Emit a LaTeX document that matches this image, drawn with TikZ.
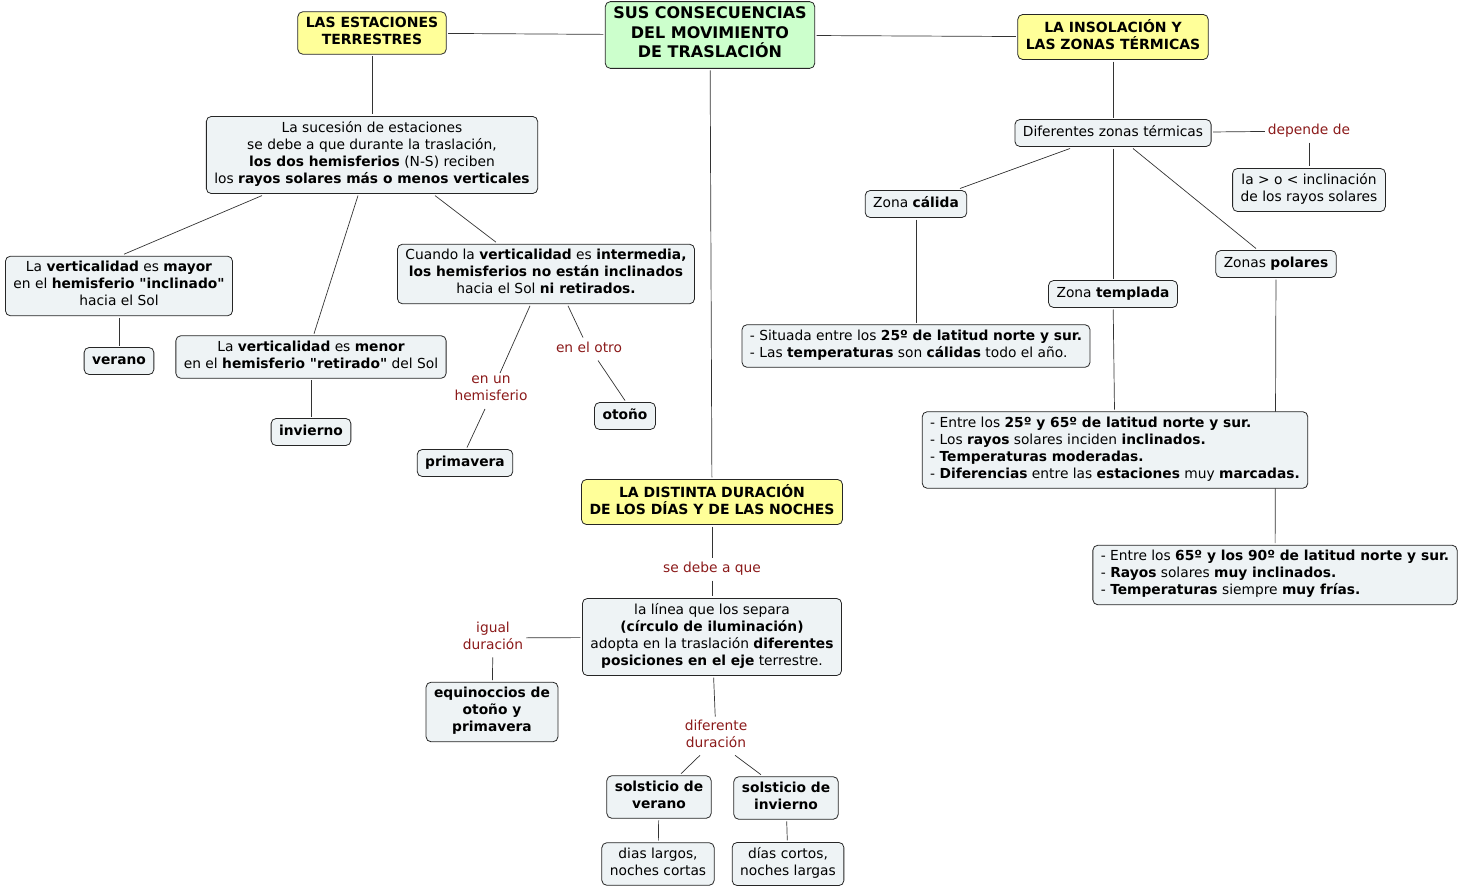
\documentclass[tikz,border=0pt]{standalone}
\usepackage{fontspec}
\setmainfont{DejaVu Sans}[Ligatures=TeXOff]
\usetikzlibrary{backgrounds}
\definecolor{conceptFill}{HTML}{EEF3F5}
\definecolor{topicFill}{HTML}{FFFF99}
\definecolor{mainFill}{HTML}{CCFFCC}
\definecolor{linkText}{HTML}{8B1A1A}
\definecolor{lineGray}{HTML}{333333}
\newcommand\bodyFont{\fontsize{13.8}{17}\selectfont}
\tikzset{
  concept/.style={draw=black!85, fill=conceptFill, rounded corners=5pt,
    line width=0.8pt, align=center, inner xsep=8pt, inner ysep=5pt,
    outer sep=2pt, font=\bodyFont,
    execute at begin node=\strut, execute at end node=\strut},
  boldConcept/.style={concept, font=\bodyFont\bfseries},
  topic/.style={concept, fill=topicFill, font=\fontsize{14}{17}\selectfont\bfseries},
  mainTopic/.style={concept, fill=mainFill, font=\fontsize{16}{19.5}\selectfont\bfseries},
  linkWord/.style={text=linkText, align=center, inner sep=1pt, outer sep=2pt,
    font=\bodyFont, execute at begin node=\strut, execute at end node=\strut},
  connector/.style={draw=lineGray, line width=0.7pt}
}
\begin{document}
\begin{tikzpicture}[x=1pt,y=-1pt] % pixel grid, y downwards
\useasboundingbox (0,0) rectangle (1464,891);
% main topics
\node[mainTopic] (main) at (710,35) {SUS CONSECUENCIAS\\DEL MOVIMIENTO\\DE TRASLACIÓN};
\node[topic] (estaciones) at (372,33) {LAS ESTACIONES\\TERRESTRES};
\node[topic] (insolacion) at (1113,37) {LA INSOLACIÓN Y\\LAS ZONAS TÉRMICAS};
\node[topic] (duracion) at (712,502) {LA DISTINTA DURACIÓN\\DE LOS DÍAS Y DE LAS NOCHES};
% the seasons
\node[concept] (sucesion) at (372,155) {La sucesión de estaciones\\se debe a que durante la traslación,\\\textbf{los dos hemisferios} (N-S) reciben\\los \textbf{rayos solares más o menos verticales}};
\node[concept] (mayor) at (119,286) {La \textbf{verticalidad} es \textbf{mayor}\\en el \textbf{hemisferio "inclinado"}\\hacia el Sol};
\node[boldConcept] (verano) at (119,361) {verano};
\node[concept] (menor) at (311,357) {La \textbf{verticalidad} es \textbf{menor}\\en el \textbf{hemisferio "retirado"} del Sol};
\node[boldConcept] (invierno) at (311,432) {invierno};
\node[concept] (intermedia) at (546,274) {Cuando la \textbf{verticalidad} es \textbf{intermedia,}\\\textbf{los hemisferios no están inclinados}\\hacia el Sol \textbf{ni retirados.}};
\node[linkWord] (enUn) at (491,391) {en un\\hemisferio};
\node[linkWord] (enOtro) at (589,349) {en el otro};
\node[boldConcept] (primavera) at (465,463) {primavera};
\node[boldConcept] (otono) at (625,416) {otoño};
% the thermal zones
\node[concept] (zonas) at (1113,133) {Diferentes zonas térmicas};
\node[linkWord] (depende) at (1309,131) {depende de};
\node[concept] (inclinacion) at (1309,190) {la > o < inclinación\\de los rayos solares};
\node[concept] (calida) at (916,204) {Zona \textbf{cálida}};
\node[concept] (templada) at (1113,294) {Zona \textbf{templada}};
\node[concept] (polares) at (1276,264) {Zonas \textbf{polares}};
\node[concept, align=left] (calidaTxt) at (916,346) {- Situada entre los \textbf{25º de latitud norte y sur.}\\- Las \textbf{temperaturas} son \textbf{cálidas} todo el año.};
\node[concept, align=left] (templadaTxt) at (1115,450) {- Entre los \textbf{25º y 65º de latitud norte y sur.}\\- Los \textbf{rayos} solares inciden \textbf{inclinados.}\\- \textbf{Temperaturas moderadas.}\\- \textbf{Diferencias} entre las \textbf{estaciones} muy \textbf{marcadas.}};
\node[concept, align=left] (polaresTxt) at (1275,575) {- Entre los \textbf{65º y los 90º de latitud norte y sur.}\\- \textbf{Rayos} solares \textbf{muy inclinados.}\\- \textbf{Temperaturas} siempre \textbf{muy frías.}};
% days and nights
\node[linkWord] (seDebe) at (712,569) {se debe a que};
\node[concept] (separa) at (712,637) {la línea que los separa\\\textbf{(círculo de iluminación)}\\adopta en la traslación \textbf{diferentes}\\\textbf{posiciones en el eje} terrestre.};
\node[linkWord] (igual) at (493,638) {igual\\duración};
\node[boldConcept] (equinoccios) at (492,712) {equinoccios de\\otoño y\\primavera};
\node[linkWord] (diferente) at (716,736) {diferente\\duración};
\node[boldConcept] (solsVerano) at (659,797) {solsticio de\\verano};
\node[boldConcept] (solsInvierno) at (786,798) {solsticio de\\invierno};
\node[concept] (largos) at (658,864) {dias largos,\\noches cortas};
\node[concept] (cortos) at (788,864) {días cortos,\\noches largas};
% connectors, behind the boxes
\begin{pgfonlayer}{background}
\foreach \a/\b in {main/estaciones, main/insolacion, main/duracion,
  estaciones/sucesion, mayor/verano, menor/invierno,
  insolacion/zonas, zonas/depende, depende/inclinacion, zonas/templada,
  calida/calidaTxt, templada/templadaTxt, polares/polaresTxt,
  duracion/seDebe, seDebe/separa, separa/igual, igual/equinoccios,
  separa/diferente, solsVerano/largos, solsInvierno/cortos}
  \draw[connector] (\a) -- (\b);
\draw[connector] ([xshift=-110pt]sucesion.south) -- ([xshift=5pt]mayor.north);
\draw[connector] ([xshift=-14pt]sucesion.south) -- ([xshift=3pt]menor.north);
\draw[connector] ([xshift=63pt]sucesion.south) -- ([xshift=-50pt]intermedia.north);
\draw[connector] ([xshift=-16pt]intermedia.south) -- ([xshift=9pt]enUn.north);
\draw[connector] ([xshift=-6pt]enUn.south) -- ([xshift=2pt]primavera.north);
\draw[connector] ([xshift=22pt]intermedia.south) -- ([xshift=-6pt]enOtro.north);
\draw[connector] ([xshift=9pt]enOtro.south) -- (otono.north);
\draw[connector] ([xshift=-43pt]zonas.south) -- ([xshift=44pt]calida.north);
\draw[connector] ([xshift=20pt]zonas.south) -- ([xshift=-20pt]polares.north);
\draw[connector] ([xshift=-16pt]diferente.south) -- ([xshift=22pt]solsVerano.north);
\draw[connector] ([xshift=19pt]diferente.south) -- ([xshift=-25pt]solsInvierno.north);
\end{pgfonlayer}
\end{tikzpicture}
\end{document}
